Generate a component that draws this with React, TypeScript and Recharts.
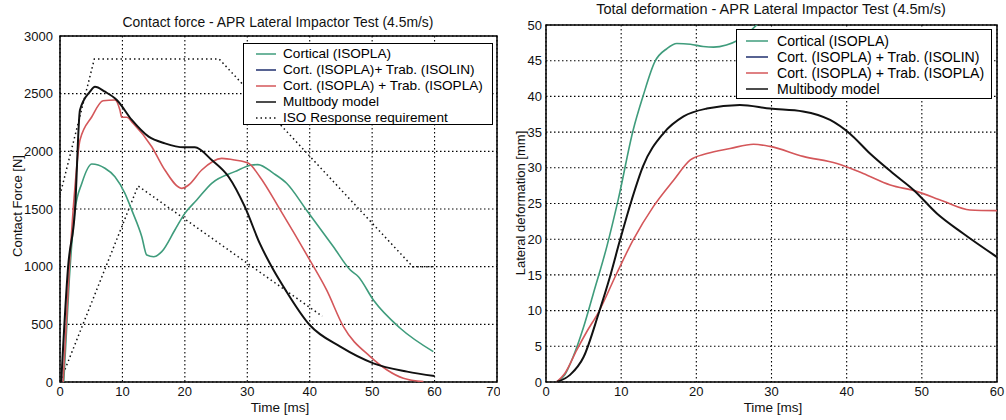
import { LineChart, Line, XAxis, YAxis, CartesianGrid, ReferenceArea } from "recharts";

// contact force chart (left)
const forceTicksX = [0, 10, 20, 30, 40, 50, 60, 70];
const forceTicksY = [0, 500, 1000, 1500, 2000, 2500, 3000];

const corticalForceT = [0.6, 1.5, 2.4, 3.5, 5.1, 7.2, 8.8, 10.4, 11.5, 13.1, 13.9, 15, 16.3, 18.4, 20, 21.9, 24.3, 28, 30.7, 31.7, 34.2, 36.3, 39.5, 43.8, 46.5, 47.8, 50.2, 54.5, 59.8];
const corticalForce = [0, 900, 1490, 1723, 1890, 1853, 1780, 1636, 1490, 1260, 1101, 1086, 1130, 1318, 1462, 1578, 1723, 1824, 1881, 1885, 1809, 1723, 1490, 1173, 971, 913, 711, 466, 263];

const trabPlaForceT = [0.5, 1.5, 2.4, 3.2, 5.1, 6.9, 8.8, 9.6, 9.9, 10.7, 11.7, 14.7, 16.8, 19.5, 20.6, 22.7, 25.9, 28, 30.2, 32, 35.3, 40, 42.7, 45.4, 49.7, 52.4, 55, 58.2];
const trabPlaForce = [0, 1000, 1693, 2098, 2300, 2439, 2445, 2358, 2295, 2295, 2243, 2040, 1838, 1679, 1708, 1838, 1939, 1925, 1896, 1780, 1490, 1058, 798, 480, 220, 104, 32, 3];

const multibodyForceT = [0.2, 1.3, 2.4, 3.2, 4.8, 5.6, 7.2, 9.1, 11.5, 14.2, 16.8, 19.8, 21.6, 24.3, 27, 29.6, 32, 34.2, 35.8, 40, 44.9, 50.2, 55.6, 60];
const multibodyForce = [0, 1000, 1490, 2358, 2517, 2560, 2517, 2445, 2272, 2127, 2069, 2035, 2035, 1925, 1780, 1520, 1202, 971, 826, 494, 306, 162, 90, 52];

const isoUpperT = [0, 5.5, 25.5, 56.5, 60];
const isoUpper = [1620, 2800, 2800, 1000, 1000];
const isoLowerT = [0, 12.5, 42];
const isoLower = [0, 1700, 570];

// deformation chart (right)
const defTicksX = [0, 10, 20, 30, 40, 50, 60];
const defTicksY = [0, 5, 10, 15, 20, 25, 30, 35, 40, 45, 50];

const corticalDefT = [1.4, 2.5, 3.6, 5, 6.3, 8.1, 9.6, 11.6, 12.9, 14.5, 16.1, 17.4, 19.2, 20.9, 22.3, 24, 25.4, 27, 28.5];
const corticalDef = [0, 1, 3.5, 7.7, 12.4, 19, 25.5, 35.3, 40, 44.9, 46.7, 47.4, 47.3, 47, 46.9, 47.2, 47.8, 49, 50.5];

const trabPlaDefT = [1.4, 2.5, 4.1, 5.4, 7, 9.4, 11.6, 14.3, 17, 19.2, 21.4, 24.5, 27.6, 29.8, 34.2, 38.7, 42.2, 45.8, 49.3, 52.9, 56.4, 60];
const trabPlaDef = [0, 1.2, 4.5, 7, 9.8, 15.2, 19.9, 24.6, 28.3, 31.1, 32, 32.7, 33.3, 33, 31.6, 30.6, 29.2, 27.6, 26.7, 25.3, 24.1, 24];

const multibodyDefT = [1.4, 3.2, 5, 7, 8.5, 9.8, 11.4, 12.9, 15.6, 18.3, 21.4, 25.8, 29.8, 34.2, 37.8, 40.4, 43.1, 46.2, 48.9, 52, 55.5, 60];
const multibodyDef = [0, 1, 3.5, 9.6, 14.7, 19.7, 25.5, 30.2, 34.8, 37.2, 38.3, 38.8, 38.3, 37.9, 36.7, 34.8, 32, 29.2, 26.9, 23.6, 20.8, 17.5];

const GREEN = "#3f9c7c";
const BLUE = "#1f2f6e";
const RED = "#d4575a";
const BLACK = "#111";
const FONT = "'Liberation Sans', Arial, sans-serif";

const zip = (t: number[], v: number[]) => t.map((x, i) => ({ t: x, v: v[i] }));

type LegendItem = { label: string; color: string; dotted?: boolean };

function LegendBox({ items, left, top, width, height, fontSize, pad, sampleX, textX }: {
  items: LegendItem[]; left: number; top: number; width: number; height: number;
  fontSize: number; pad: number; sampleX: [number, number]; textX: number;
}) {
  return (
    <div style={{ position: "absolute", left, top, width, height, boxSizing: "border-box", border: "1.5px solid #000", background: "#fff", fontFamily: FONT, fontSize, paddingTop: pad }}>
      {items.map((it) => (
        <div key={it.label} style={{ position: "relative", height: 16 }}>
          <svg width={sampleX[1]} height={16} style={{ position: "absolute", left: 0, top: 0 }}>
            <line x1={sampleX[0]} x2={sampleX[1]} y1={8} y2={8} stroke={it.color} strokeWidth={1.5} strokeDasharray={it.dotted ? "1.5 3" : undefined} />
          </svg>
          <span style={{ position: "absolute", left: textX, top: 0, lineHeight: "16px", whiteSpace: "nowrap" }}>{it.label}</span>
        </div>
      ))}
    </div>
  );
}

const tickStyle = { fontSize: 13, fill: "#111", fontFamily: FONT };
const gridDash = "1.5 2.5";

function ForceChart() {
  return (
    <LineChart width={500} height={420} margin={{ top: 36, right: 3, bottom: 0, left: 0 }}>
      <CartesianGrid stroke="#000" strokeWidth={1.1} strokeDasharray={gridDash} horizontalValues={forceTicksY} verticalValues={forceTicksX} />
      <XAxis type="number" dataKey="t" domain={[0, 70]} ticks={forceTicksX} height={38} tickSize={0} tickMargin={5} tick={tickStyle} axisLine={false} allowDataOverflow />
      <YAxis type="number" dataKey="v" domain={[0, 3000]} ticks={forceTicksY} width={60} tickSize={0} tickMargin={7} tick={tickStyle} axisLine={false} allowDataOverflow />
      <Line data={zip(isoUpperT, isoUpper)} dataKey="v" type="linear" stroke={BLACK} strokeWidth={1.5} strokeDasharray="1.5 3" dot={false} isAnimationActive={false} />
      <Line data={zip(isoLowerT, isoLower)} dataKey="v" type="linear" stroke={BLACK} strokeWidth={1.5} strokeDasharray="1.5 3" dot={false} isAnimationActive={false} />
      <Line data={zip(corticalForceT, corticalForce)} dataKey="v" type="monotone" stroke={GREEN} strokeWidth={1.6} dot={false} isAnimationActive={false} />
      <Line data={zip(trabPlaForceT, trabPlaForce)} dataKey="v" type="monotone" stroke={RED} strokeWidth={1.6} dot={false} isAnimationActive={false} />
      <Line data={zip(multibodyForceT, multibodyForce)} dataKey="v" type="monotone" stroke={BLACK} strokeWidth={2} dot={false} isAnimationActive={false} />
      <ReferenceArea x1={0} x2={70} y1={0} y2={3000} fill="none" stroke="#000" strokeWidth={1.5} ifOverflow="visible" />
    </LineChart>
  );
}

function DeformationChart() {
  return (
    <LineChart width={506} height={420} margin={{ top: 25, right: 9, bottom: 0, left: 0 }}>
      <CartesianGrid stroke="#000" strokeWidth={1.1} strokeDasharray={gridDash} horizontalValues={defTicksY} verticalValues={defTicksX} />
      <XAxis type="number" dataKey="t" domain={[0, 60]} ticks={defTicksX} height={38} tickSize={0} tickMargin={5} tick={tickStyle} axisLine={false} allowDataOverflow />
      <YAxis type="number" dataKey="v" domain={[0, 50]} ticks={defTicksY} width={46} tickSize={0} tickMargin={4} tick={tickStyle} axisLine={false} allowDataOverflow />
      <Line data={zip(corticalDefT, corticalDef)} dataKey="v" type="monotone" stroke={GREEN} strokeWidth={1.6} dot={false} isAnimationActive={false} />
      <Line data={zip(trabPlaDefT, trabPlaDef)} dataKey="v" type="monotone" stroke={RED} strokeWidth={1.6} dot={false} isAnimationActive={false} />
      <Line data={zip(multibodyDefT, multibodyDef)} dataKey="v" type="monotone" stroke={BLACK} strokeWidth={2} dot={false} isAnimationActive={false} />
      <ReferenceArea x1={0} x2={60} y1={0} y2={50} fill="none" stroke="#000" strokeWidth={1.5} ifOverflow="visible" />
    </LineChart>
  );
}

const forceLegend: LegendItem[] = [
  { label: "Cortical (ISOPLA)", color: GREEN },
  { label: "Cort. (ISOPLA)+ Trab. (ISOLIN)", color: BLUE },
  { label: "Cort. (ISOPLA) + Trab. (ISOPLA)", color: RED },
  { label: "Multbody model", color: BLACK },
  { label: "ISO Response requirement", color: BLACK, dotted: true },
];

const defLegend: LegendItem[] = [
  { label: "Cortical (ISOPLA)", color: GREEN },
  { label: "Cort. (ISOPLA) + Trab. (ISOLIN)", color: BLUE },
  { label: "Cort. (ISOPLA) + Trab. (ISOPLA)", color: RED },
  { label: "Multibody model", color: BLACK },
];

const textStyle = { position: "absolute" as const, fontFamily: FONT, color: "#111", whiteSpace: "nowrap" as const };

export default function App() {
  return (
    <div style={{ position: "absolute", left: 0, top: 0, width: 1006, height: 420, background: "#fff", overflow: "hidden" }}>
      <div style={{ position: "absolute", left: 0, top: 0 }}>
        <ForceChart />
      </div>
      <div style={{ position: "absolute", left: 500, top: 0 }}>
        <DeformationChart />
      </div>

      <div style={{ ...textStyle, left: 112, top: 14, width: 332, textAlign: "center", fontSize: 13.9 }}>
        Contact force - APR Lateral Impactor Test (4.5m/s)
      </div>
      <div style={{ ...textStyle, left: 586, top: 1, width: 370, textAlign: "center", fontSize: 14.5 }}>
        Total deformation - APR Lateral Impactor Test (4.5m/s)
      </div>

      <div style={{ ...textStyle, left: 230, top: 400, width: 100, textAlign: "center", fontSize: 13.5 }}>Time [ms]</div>
      <div style={{ ...textStyle, left: 723, top: 400, width: 100, textAlign: "center", fontSize: 13.5 }}>Time [ms]</div>

      <div style={{ ...textStyle, left: 17, top: 206, fontSize: 13, transform: "translate(-50%, -50%) rotate(-90deg)" }}>Contact Force [N]</div>
      <div style={{ ...textStyle, left: 520, top: 203, fontSize: 13, transform: "translate(-50%, -50%) rotate(-90deg)" }}>Lateral deformation [mm]</div>

      <LegendBox items={forceLegend} left={243} top={43} width={250} height={82} fontSize={13.6} pad={2} sampleX={[12, 32]} textX={39} />
      <LegendBox items={defLegend} left={736} top={29} width={256} height={70} fontSize={14.1} pad={3} sampleX={[9, 31]} textX={40} />
    </div>
  );
}
